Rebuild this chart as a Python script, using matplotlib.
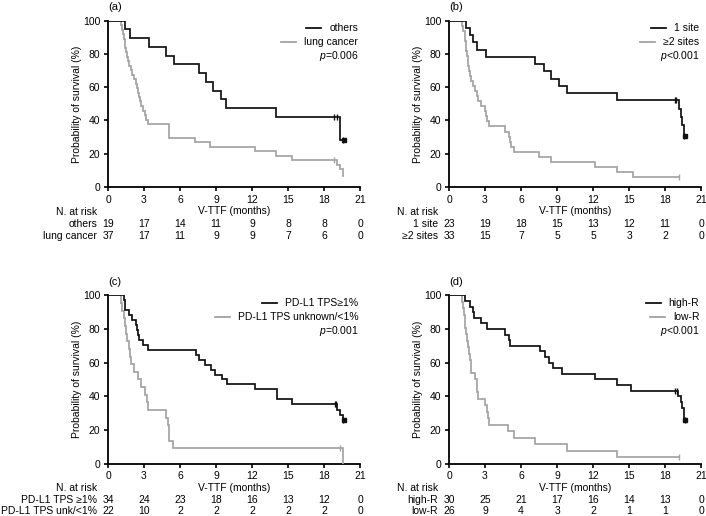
import numpy as np
import matplotlib
matplotlib.use("Agg")
import matplotlib.pyplot as plt

plt.rcParams['font.family'] = ['Liberation Sans', 'DejaVu Sans']
plt.rcParams['mathtext.fontset'] = 'custom'
plt.rcParams['mathtext.rm'] = 'Liberation Sans'
plt.rcParams['mathtext.it'] = 'Liberation Sans:italic'

# ---- data ----
risk_times = [0, 3, 6, 9, 12, 15, 18, 21]

# (a) others vs lung cancer
a_black_t = [1.45, 1.8, 3.4, 4.8, 5.5, 7.6, 8.15, 8.75, 9.4, 9.85, 14.0, 19.35]
a_black_s = [94.7, 89.5, 84.2, 78.9, 73.7, 68.4, 63.2, 57.9, 52.6, 47.4, 42.1, 28.4]
a_black_cens = [18.8, 19.1, 19.62]
a_black_end = 19.65
a_gray_t = [1.05, 1.15, 1.25, 1.3, 1.38, 1.45, 1.5, 1.56, 1.65, 1.75, 1.9, 2.0, 2.15,
            2.3, 2.4, 2.5, 2.55, 2.65, 2.75, 2.9, 3.05, 3.2, 3.35, 5.1, 7.25, 8.5,
            12.25, 14.0, 15.3, 19.05, 19.35, 19.55]
a_gray_s = [97.3, 94.6, 91.9, 89.2, 86.5, 83.8, 81.1, 78.4, 75.7, 73.0, 70.3, 67.6, 64.9,
            62.2, 59.5, 56.8, 54.1, 51.4, 48.6, 45.9, 43.2, 40.5, 37.8, 29.7, 27.0, 24.3,
            21.6, 18.9, 16.2, 13.5, 10.8, 6.5]
a_gray_cens = [18.8]
a_gray_end = 19.58
a_labels = ["others", "lung cancer"]
a_p = r"$p$=0.006"
a_risk_names = ["others", "lung cancer"]
a_risk = [[19, 17, 14, 11, 9, 8, 8, 0], [37, 17, 11, 9, 9, 7, 6, 0]]

# (b) 1 site vs >=2 sites
b_black_t = [1.4, 1.75, 2.0, 2.35, 3.1, 7.2, 7.9, 8.5, 9.2, 9.8, 14.0, 19.15, 19.3, 19.45, 19.55]
b_black_s = [95.7, 91.3, 87.0, 82.6, 78.3, 73.9, 69.6, 65.2, 60.9, 56.5, 52.2, 47.0, 42.0, 37.0, 30.4]
b_black_cens = [18.85, 18.95, 19.6]
b_black_end = 19.65
b_gray_t = [1.1, 1.2, 1.3, 1.35, 1.4, 1.45, 1.5, 1.55, 1.6, 1.65, 1.75, 1.85, 2.0, 2.2,
            2.3, 2.4, 2.7, 3.0, 3.1, 3.2, 3.3, 4.7, 5.0, 5.1, 5.2, 5.4, 7.5, 8.5, 12.2,
            14.0, 15.3]
b_gray_s = [97.0, 93.9, 90.9, 87.9, 84.8, 81.8, 78.8, 75.8, 72.7, 69.7, 66.7, 63.6, 60.6,
            57.6, 54.5, 51.5, 48.5, 45.5, 42.4, 39.4, 36.4, 33.3, 30.3, 27.3, 24.2, 21.2,
            18.2, 15.2, 12.1, 9.1, 6.1]
b_gray_cens = [19.15]
b_gray_end = 19.2
b_labels = ["1 site", "\u22652 sites"]
b_p = r"$p$<0.001"
b_risk_names = ["1 site", "\u22652 sites"]
b_risk = [[23, 19, 18, 15, 13, 12, 11, 0], [33, 15, 7, 5, 5, 3, 2, 0]]

# (c) PD-L1 TPS
c_black_t = [1.35, 1.38, 1.42, 1.75, 2.0, 2.3, 2.45, 2.5, 2.55, 2.95, 3.35, 7.3, 7.6, 8.1,
             8.55, 8.9, 9.5, 9.9, 12.25, 14.05, 14.1, 15.35, 19.1, 19.3, 19.55]
c_black_s = [97.1, 94.1, 91.2, 88.2, 85.3, 82.4, 79.4, 76.5, 73.5, 70.6, 67.6, 64.7, 61.8,
             58.8, 55.9, 52.9, 50.0, 47.1, 44.1, 41.2, 38.2, 35.3, 32.0, 29.0, 26.0]
c_black_cens = [18.9, 19.0, 19.62]
c_black_end = 19.65
c_gray_t = [1.08, 1.2, 1.3, 1.4, 1.5, 1.6, 1.75, 1.85, 1.92, 2.2, 2.5, 2.75, 3.1, 3.25,
            3.35, 4.8, 5.0, 5.05, 5.1, 5.45, 19.6]
c_gray_s = [95.5, 90.9, 86.4, 81.8, 77.3, 72.7, 68.2, 63.6, 59.1, 54.5, 50.0, 45.5, 40.9,
            36.4, 31.8, 27.3, 22.7, 18.2, 13.6, 9.1, 0]
c_gray_cens = [19.3]
c_gray_end = 19.6
c_labels = ["PD-L1 TPS\u22651%", "PD-L1 TPS unknown/<1%"]
c_p = r"$p$=0.001"
c_risk_names = ["PD-L1 TPS \u22651%", "PD-L1 TPS unk/<1%"]
c_risk = [[34, 24, 23, 18, 16, 13, 12, 0], [22, 10, 2, 2, 2, 2, 2, 0]]

# (d) high-R vs low-R
d_black_t = [1.35, 1.75, 2.0, 2.1, 2.65, 3.2, 4.7, 5.0, 5.05, 7.6, 8.0, 8.3, 8.7, 9.4,
             12.2, 14.0, 15.2, 19.05, 19.3, 19.45, 19.55, 19.6]
d_black_s = [96.7, 93.3, 90.0, 86.7, 83.3, 80.0, 76.7, 73.3, 70.0, 66.7, 63.3, 60.0, 56.7,
             53.3, 50.0, 46.7, 43.3, 40.0, 36.7, 33.3, 30.0, 26.0]
d_black_cens = [18.85, 19.0, 19.63]
d_black_end = 19.65
d_gray_t = [1.07, 1.15, 1.25, 1.3, 1.35, 1.4, 1.5, 1.6, 1.7, 1.75, 1.8, 1.85, 2.2, 2.3,
            2.35, 2.4, 3.0, 3.15, 3.25, 3.35, 4.9, 5.4, 7.2, 9.8, 14.0]
d_gray_s = [96.2, 92.3, 88.5, 84.6, 80.8, 76.9, 73.1, 69.2, 65.4, 61.5, 57.7, 53.8, 50.0,
            46.2, 42.3, 38.5, 34.6, 30.8, 26.9, 23.1, 19.2, 15.4, 11.5, 7.7, 3.8]
d_gray_cens = [19.15]
d_gray_end = 19.2
d_labels = ["high-R", "low-R"]
d_p = r"$p$<0.001"
d_risk_names = ["high-R", "low-R"]
d_risk = [[30, 25, 21, 17, 16, 14, 13, 0], [26, 9, 4, 3, 2, 1, 1, 0]]

BLACK = "#111111"
GRAY = "#a3a3a3"
FS = 7.5
PX = 0.72  # points per pixel at dpi 100

fig = plt.figure(figsize=(7.06, 5.16), dpi=100)


def km(ax, t, s, end, cens, color):
    x = np.array([0] + t + [end])
    y = np.array([100] + s + [s[-1]])
    ax.plot(x, y, drawstyle="steps-post", color=color, lw=1.25, solid_joinstyle="miter", zorder=3)
    cy = [y[np.searchsorted(x, c, side="right") - 1] for c in cens]
    ax.plot(cens, cy, ls="none", marker="|", ms=4, mew=1.0, color=color, zorder=3)


panels = [
    ("(a)", [0.153, 0.6376, 0.357, 0.3224], a_black_t, a_black_s, a_black_end, a_black_cens,
     a_gray_t, a_gray_s, a_gray_end, a_gray_cens, a_labels, a_p, a_risk_names, a_risk, [25, 37.5, 49.5]),
    ("(b)", [0.636, 0.6376, 0.357, 0.3224], b_black_t, b_black_s, b_black_end, b_black_cens,
     b_gray_t, b_gray_s, b_gray_end, b_gray_cens, b_labels, b_p, b_risk_names, b_risk, [25, 37.5, 49.5]),
    ("(c)", [0.153, 0.1014, 0.357, 0.3263], c_black_t, c_black_s, c_black_end, c_black_cens,
     c_gray_t, c_gray_s, c_gray_end, c_gray_cens, c_labels, c_p, c_risk_names, c_risk, [24.5, 36.5, 47]),
    ("(d)", [0.636, 0.1014, 0.357, 0.3263], d_black_t, d_black_s, d_black_end, d_black_cens,
     d_gray_t, d_gray_s, d_gray_end, d_gray_cens, d_labels, d_p, d_risk_names, d_risk, [24.5, 36.5, 47]),
]

legend_items = []
for (tag, rect, bt, bs, be, bc, gt, gs, ge, gc, labels, ptxt, rnames, rvals, roffs) in panels:
    ax = fig.add_axes(rect)
    km(ax, gt, gs, ge, gc, GRAY)
    km(ax, bt, bs, be, bc, BLACK)
    # end-of-curve marker for black group
    ax.plot([be], [bs[-1]], marker="s", ms=2.8, color=BLACK, zorder=4)

    ax.set_xlim(0, 21)
    ax.set_ylim(0, 100)
    ax.set_xticks(risk_times)
    ax.set_yticks([0, 20, 40, 60, 80, 100])
    for side in ["top", "right"]:
        ax.spines[side].set_visible(False)
    for side in ["left", "bottom"]:
        ax.spines[side].set_linewidth(1.3)
    ax.tick_params(direction="out", length=3, width=1.2, labelsize=FS, pad=2.5)
    ax.set_ylabel("Probability of survival (%)", fontsize=FS, labelpad=0.5)
    ax.set_xlabel("V-TTF (months)", fontsize=FS, labelpad=1)

    ax.annotate(tag, xy=(0, 1), xycoords="axes fraction", xytext=(0, 6),
                textcoords="offset points", ha="left", va="bottom", fontsize=8)

    # legend text, right-aligned
    ys = [0.955, 0.873, 0.79]
    t1 = ax.text(0.993, ys[0], labels[0], transform=ax.transAxes, ha="right", va="center", fontsize=FS)
    t2 = ax.text(0.993, ys[1], labels[1], transform=ax.transAxes, ha="right", va="center", fontsize=FS)
    ax.text(0.993, ys[2], ptxt, transform=ax.transAxes, ha="right", va="center", fontsize=FS)
    legend_items.append((ax, t1, ys[0], BLACK))
    legend_items.append((ax, t2, ys[1], GRAY))

    # number at risk table
    def row(x, txt, off, ha="center"):
        ax.annotate(txt, xy=(x, 0), xycoords=("data", "axes fraction"),
                    xytext=(0, -off * PX), textcoords="offset points",
                    ha=ha, va="center", fontsize=FS, annotation_clip=False)

    ax.annotate("N. at risk", xy=(0, 0), xycoords="axes fraction", xytext=(-11 * PX, -roffs[0] * PX),
                textcoords="offset points", ha="right", va="center", fontsize=FS, annotation_clip=False)
    for k in range(2):
        ax.annotate(rnames[k], xy=(0, 0), xycoords="axes fraction", xytext=(-11 * PX, -roffs[k + 1] * PX),
                    textcoords="offset points", ha="right", va="center", fontsize=FS, annotation_clip=False)
        for tm, v in zip(risk_times, rvals[k]):
            row(tm, str(v), roffs[k + 1])

# legend handles drawn left of the right-aligned labels
fig.canvas.draw()
r = fig.canvas.get_renderer()
for ax, txt, y, color in legend_items:
    bb = txt.get_window_extent(r).transformed(ax.transAxes.inverted())
    w_px = ax.get_window_extent(r).width
    x1 = bb.x0 - 8 / w_px
    x0 = x1 - 15 / w_px
    ax.plot([x0, x1], [y, y], color=color, lw=1.3, transform=ax.transAxes, clip_on=False)

fig.savefig("out.png", dpi=100)
